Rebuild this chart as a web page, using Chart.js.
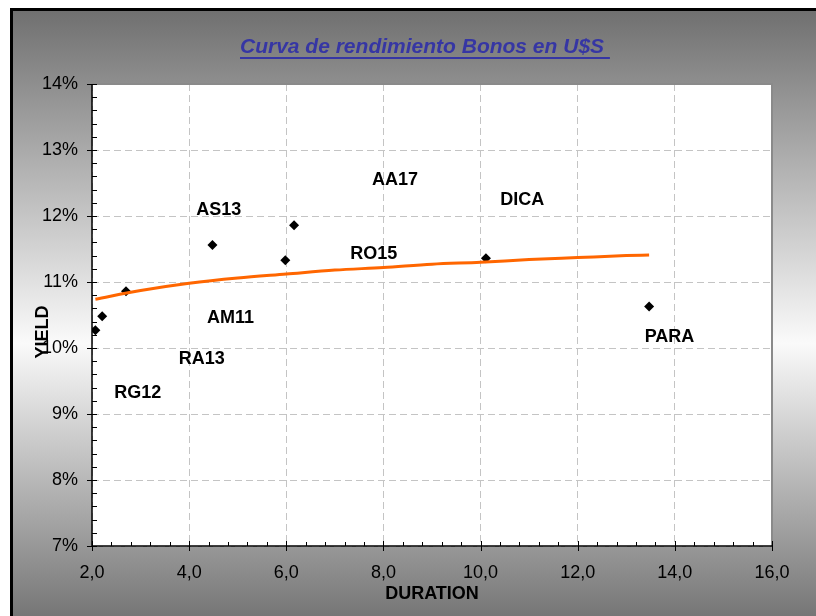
<!DOCTYPE html>
<html>
<head>
<meta charset="utf-8">
<script src="https://cdn.jsdelivr.net/npm/chart.js@4/dist/chart.umd.min.js"></script>
<style>
    html, body { margin: 0; padding: 0; background: #fff; overflow: hidden; }
    #frame {
        position: absolute; left: 10px; top: 8px; width: 900px; height: 700px;
        border: 3px solid #000;
        background: linear-gradient(to bottom, #707070 0px, #fafafa 332px, #767676 605px, #6e6e6e 700px);
    }
    #chart { position: absolute; left: 0; top: 0; }
</style>
</head>
<body>
<div id="frame"></div>
<canvas id="chart" width="816" height="616"></canvas>
<script>
// Bond data
const bondDuration = [2.07, 2.21, 2.70, 4.48, 5.98, 6.16, 10.11, 13.47];
const bondYield = [10.27, 10.48, 10.86, 11.56, 11.33, 11.86, 11.36, 10.63];

// Data labels (Excel placed them loosely around the points)
const labelNames = ['AS13', 'AA17', 'DICA', 'RO15', 'AM11', 'RA13', 'RG12', 'PARA'];
const labelX = [4.61, 8.24, 10.86, 7.80, 4.85, 4.26, 2.94, 13.89];
const labelY = [12.09, 12.55, 12.24, 11.42, 10.45, 9.83, 9.32, 10.17];

// Trend line (log trend)
const trendX = [2.07, 3, 4, 5, 6, 7, 8, 9, 10, 11, 12, 13, 13.47];
const trendY = [10.74, 10.87, 10.98, 11.06, 11.12, 11.18, 11.22, 11.27, 11.30, 11.34, 11.37, 11.40, 11.41];

// Axis ticks
const xTicks = [2, 4, 6, 8, 10, 12, 14, 16];
const yTicks = [7, 8, 9, 10, 11, 12, 13, 14];

const chartTitle = 'Curva de rendimiento Bonos en U$S ';
const xTitle = 'DURATION';
const yTitle = 'YIELD';

const FONT = '"Liberation Sans", Arial, sans-serif';

// Extra drawing: plot background, borders, minor ticks, titles, labels
const excelLook = {
    id: 'excelLook',
    beforeDraw(chart) {
        const { ctx, chartArea: a } = chart;
        ctx.save();
        ctx.fillStyle = '#ffffff';
        ctx.fillRect(a.left, a.top, a.right - a.left, a.bottom - a.top);
        ctx.restore();
    },
    afterDatasetsDraw(chart) {
        const { ctx, scales } = chart;
        ctx.save();
        ctx.fillStyle = '#000';
        ctx.font = 'bold 18px ' + FONT;
        ctx.textAlign = 'center';
        ctx.textBaseline = 'middle';
        labelNames.forEach((name, i) => {
            ctx.fillText(name, scales.x.getPixelForValue(labelX[i]), scales.y.getPixelForValue(labelY[i]));
        });
        ctx.restore();
    },
    afterDraw(chart) {
        const { ctx, chartArea: a, scales } = chart;
        ctx.save();

        // gray plot border top and right
        ctx.strokeStyle = '#8a8a8a';
        ctx.lineWidth = 2;
        ctx.beginPath();
        ctx.moveTo(a.left, a.top);
        ctx.lineTo(a.right, a.top);
        ctx.lineTo(a.right, a.bottom);
        ctx.stroke();

        // axis lines
        ctx.strokeStyle = '#000';
        ctx.lineWidth = 1.5;
        ctx.beginPath();
        ctx.moveTo(a.left, a.top);
        ctx.lineTo(a.left, a.bottom);
        ctx.lineTo(a.right, a.bottom);
        ctx.stroke();

        // tick marks
        ctx.lineWidth = 1;
        ctx.beginPath();
        xTicks.forEach(v => {
            const px = Math.round(scales.x.getPixelForValue(v)) + 0.5;
            ctx.moveTo(px, a.bottom - 5);
            ctx.lineTo(px, a.bottom + 5);
        });
        for (let v = 2.4; v < 16; v += 0.4) {
            const px = Math.round(scales.x.getPixelForValue(v)) + 0.5;
            ctx.moveTo(px, a.bottom - 4);
            ctx.lineTo(px, a.bottom);
        }
        yTicks.forEach(v => {
            const py = Math.round(scales.y.getPixelForValue(v)) + 0.5;
            ctx.moveTo(a.left - 5, py);
            ctx.lineTo(a.left + 5, py);
        });
        for (let v = 7.2; v < 14; v += 0.2) {
            const py = Math.round(scales.y.getPixelForValue(v)) + 0.5;
            ctx.moveTo(a.left, py);
            ctx.lineTo(a.left + 5, py);
        }
        ctx.stroke();

        // chart title, underlined
        ctx.fillStyle = '#3636a4';
        ctx.font = 'italic bold 21px ' + FONT;
        ctx.textAlign = 'left';
        ctx.textBaseline = 'alphabetic';
        ctx.fillText(chartTitle, 240, 53);
        const w = ctx.measureText(chartTitle).width;
        ctx.fillRect(240, 57, w, 2);

        // axis titles
        ctx.fillStyle = '#000';
        ctx.font = 'bold 18px ' + FONT;
        ctx.textAlign = 'center';
        ctx.textBaseline = 'middle';
        ctx.fillText(xTitle, 432, 594);
        ctx.translate(43, 332);
        ctx.rotate(-Math.PI / 2);
        ctx.fillText(yTitle, 0, 0);

        ctx.restore();
    }
};

const ctx = document.getElementById('chart').getContext('2d');
const chart = new Chart(ctx, {
    type: 'scatter',
    data: {
        datasets: [{
            label: 'Bonos',
            data: bondDuration.map((x, i) => ({ x: x, y: bondYield[i] })),
            pointStyle: 'rectRot',
            pointRadius: 5,
            pointBackgroundColor: '#000',
            pointBorderColor: '#000',
            pointBorderWidth: 0,
            showLine: false,
            order: 1
        }, {
            label: 'Tendencia',
            data: trendX.map((x, i) => ({ x: x, y: trendY[i] })),
            showLine: true,
            borderColor: '#ff6600',
            borderWidth: 3,
            pointRadius: 0,
            cubicInterpolationMode: 'monotone',
            order: 0
        }]
    },
    options: {
        responsive: false,
        animation: false,
        layout: { padding: { left: 0, right: 44, top: 84, bottom: 0 } },
        plugins: {
            legend: { display: false },
            tooltip: { enabled: false }
        },
        scales: {
            x: {
                type: 'linear',
                min: 2,
                max: 16,
                afterFit: s => { s.height = 70; },
                afterBuildTicks: s => { s.ticks = xTicks.map(v => ({ value: v })); },
                grid: { color: '#c4c4c4', drawTicks: false },
                border: { display: false, dash: [7, 4] },
                ticks: {
                    padding: 16,
                    color: '#000',
                    font: { family: FONT, size: 18 },
                    callback: v => v.toFixed(1).replace('.', ',')
                }
            },
            y: {
                type: 'linear',
                min: 7,
                max: 14,
                afterFit: s => { s.width = 92; },
                afterBuildTicks: s => { s.ticks = yTicks.map(v => ({ value: v })); },
                grid: { color: '#c4c4c4', drawTicks: false },
                border: { display: false, dash: [7, 4] },
                ticks: {
                    padding: 14,
                    color: '#000',
                    font: { family: FONT, size: 18 },
                    callback: v => v + '%'
                }
            }
        }
    },
    plugins: [excelLook]
});
</script>
</body>
</html>
